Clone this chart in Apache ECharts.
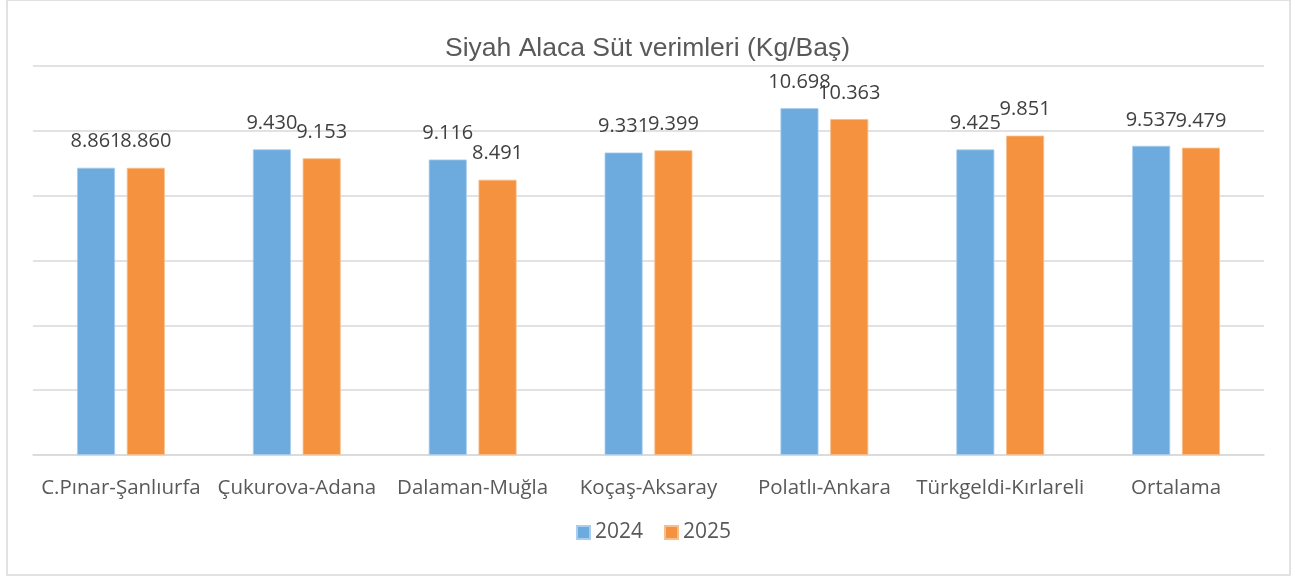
<!DOCTYPE html>
<html>
<head>
<meta charset="utf-8">
<script src="https://cdn.jsdelivr.net/npm/echarts@6/dist/echarts.min.js"></script>
<style>
  html, body { margin: 0; padding: 0; background: #fff; }
  #chart { width: 1295px; height: 578px; }
</style>
</head>
<body>
<div id="chart"></div>
<script>
const categories = [
  "C.Pınar-Şanlıurfa",
  "Çukurova-Adana",
  "Dalaman-Muğla",
  "Koçaş-Aksaray",
  "Polatlı-Ankara",
  "Türkgeldi-Kırlareli",
  "Ortalama",
];
const values2024 = [8.861, 9.43, 9.116, 9.331, 10.698, 9.425, 9.537];
const values2025 = [8.86, 9.153, 8.491, 9.399, 10.363, 9.851, 9.479];

const myChart = echarts.init(document.getElementById("chart"));

const labelStyle = {
  show: true,
  position: "top",
  distance: 16,
  color: "#404040",
  fontSize: 20,
  fontFamily: "Open Sans",
  formatter: (p) => p.value.toFixed(3),
};

const options = {
  animation: false,
  title: {
    text: "Siyah Alaca Süt verimleri (Kg/Baş)",
    left: "center",
    top: 30,
    textStyle: {
      color: "#595959",
      fontSize: 26.5,
      fontWeight: "normal",
      fontFamily: "Liberation Sans",
    },
  },
  legend: {
    data: ["2024", "2025"],
    bottom: 30,
    left: 571,
    itemWidth: 13,
    itemHeight: 13,
    itemGap: 21,
    icon: "rect",
    textStyle: {
      color: "#595959",
      fontSize: 21,
      fontFamily: "Open Sans",
    },
  },
  graphic: [
    {
      type: "rect",
      shape: { x: 7, y: 0, width: 1283, height: 575 },
      style: { fill: "none", stroke: "#D9D9D9", lineWidth: 1.5 },
      silent: true,
    },
  ],
  grid: {
    left: 33,
    right: 31,
    top: 66,
    bottom: 123,
  },
  xAxis: {
    type: "category",
    data: categories,
    axisTick: { show: false },
    axisLine: { lineStyle: { color: "#D9D9D9", width: 1.5 } },
    axisLabel: {
      color: "#595959",
      fontSize: 20.5,
      fontFamily: "Open Sans",
      margin: 23,
      interval: 0,
    },
  },
  yAxis: {
    type: "value",
    min: 0,
    max: 12,
    interval: 2,
    axisLabel: { show: false },
    axisLine: { show: false },
    axisTick: { show: false },
    splitLine: { lineStyle: { color: "#D9D9D9", width: 1.5 } },
  },
  series: [
    {
      name: "2024",
      type: "bar",
      data: values2024,
      barWidth: 38,
      barGap: "31%",
      itemStyle: { color: "#6DAADE", borderColor: "#A9CDEE", borderWidth: 0.8 },
      label: labelStyle,
    },
    {
      name: "2025",
      type: "bar",
      data: values2025,
      barWidth: 38,
      itemStyle: { color: "#F4923F", borderColor: "#F8BE8C", borderWidth: 0.8 },
      label: labelStyle,
    },
  ],
};

myChart.setOption(options);
</script>
</body>
</html>
